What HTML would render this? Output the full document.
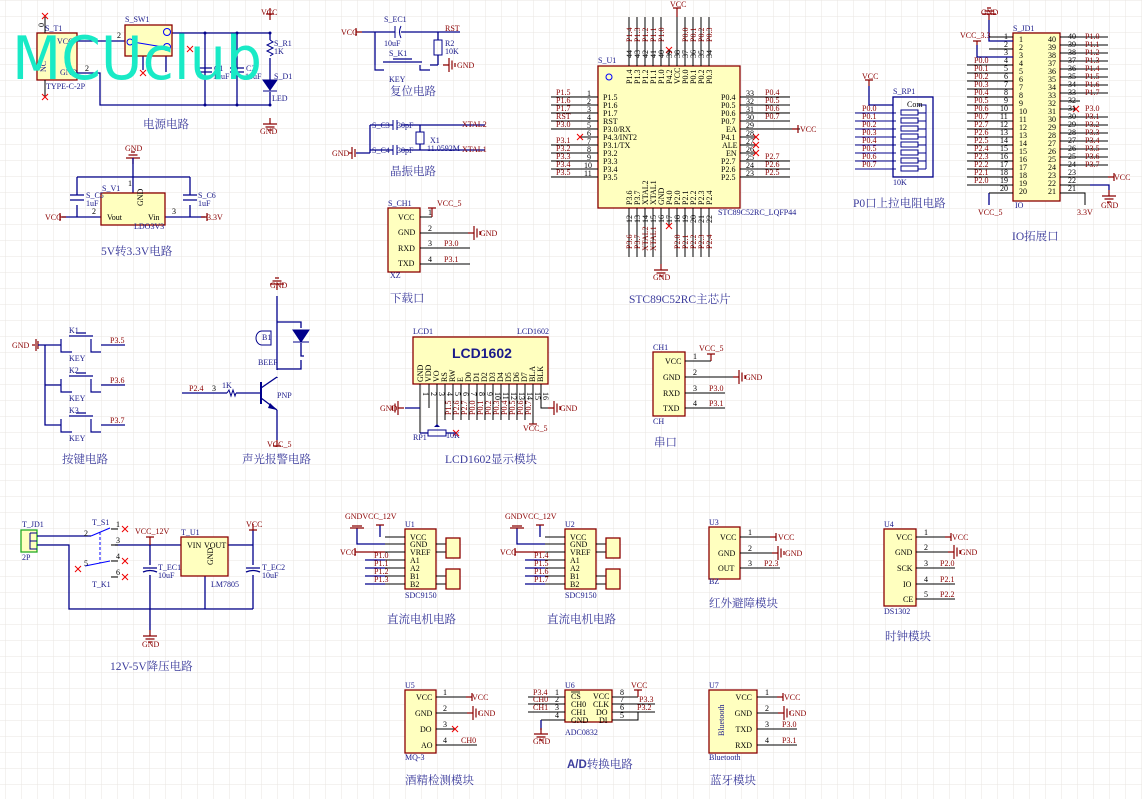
<!DOCTYPE html>
<html><head><meta charset="utf-8"><style>
html,body{margin:0;padding:0;background:#fff}
svg{display:block}
text{font-family:"Liberation Serif","Noto Serif CJK SC",serif}
.w{stroke:#00008b;stroke-width:1.3;fill:none}
.p{stroke:#000;stroke-width:1;fill:none}
.r{stroke:#8b0000;stroke-width:1.2;fill:none}
.bx{fill:#ffffbf;stroke:#8b0000;stroke-width:1.3}
.n{fill:#8b0000;font-size:8px}
.d{fill:#1a1a8a;font-size:8px}
.k{fill:#000;font-size:8px}
.t{fill:#3c3c9c;font-size:11.5px}
</style></head><body>
<svg width="1142" height="799" viewBox="0 0 1142 799" xmlns="http://www.w3.org/2000/svg">
<defs>
<pattern id="g" x="5" y="0" width="16" height="16" patternUnits="userSpaceOnUse">
<path d="M0 0V16M0 0H16" stroke="#e8e6e2" stroke-width="1" fill="none"/>
</pattern>
<g id="gnd"><path d="M0 0V6M-7 6H7M-4.5 9H4.5M-2 12H2" stroke="#8b0000" stroke-width="1.2" fill="none"/></g>
<g id="gndl"><path d="M0 0H-6M-6 -7V7M-9 -4.5V4.5M-12 -2V2" stroke="#8b0000" stroke-width="1.2" fill="none"/></g>
<g id="gndr"><path d="M0 0H6M6 -7V7M9 -4.5V4.5M12 -2V2" stroke="#8b0000" stroke-width="1.2" fill="none"/></g>
<g id="pt"><path d="M0 0V-6M-4 -6H4" stroke="#8b0000" stroke-width="1.2" fill="none"/></g>
<g id="pl"><path d="M0 0H-6M-6 -4V4" stroke="#8b0000" stroke-width="1.2" fill="none"/></g>
<g id="pr"><path d="M0 0H6M6 -4V4" stroke="#8b0000" stroke-width="1.2" fill="none"/></g>
<g id="x"><path d="M-3 -3L3 3M-3 3L3 -3" stroke="#e00" stroke-width="1"/></g>
</defs>
<rect width="1142" height="799" fill="url(#g)"/>

<!-- ===== Power circuit ===== -->
<rect class="bx" x="37" y="33" width="40" height="47"/>
<text class="d" x="45" y="31">S_T1</text>
<text class="d" x="57" y="44">VCC</text>
<text class="d" x="60" y="75">GND</text>
<text class="d" x="46" y="72" transform="rotate(-90 46 72)">NC</text>
<text class="d" x="46" y="89">TYPE-C-2P</text>
<path class="p" d="M45 33V17M45 80V96"/>
<use href="#x" x="45" y="16"/><use href="#x" x="45" y="97"/>
<text class="k" x="40" y="27" font-size="6" transform="rotate(-90 42 25)">0</text>
<path class="w" d="M77 41H125M77 73H100V105H270M172 33H270V40M205 33V105M237 33V105M270 58V80M270 92V105M166 56V72M143 56V70"/>
<rect class="bx" x="125" y="25" width="47" height="31"/>
<text class="d" x="125" y="22">S_SW1</text>
<text class="k" x="117" y="38">2</text><text class="k" x="85" y="71">2</text>
<circle cx="167" cy="32" r="3.5" fill="none" stroke="#00f"/><circle cx="167" cy="47" r="3.5" fill="none" stroke="#00f"/>
<circle cx="130" cy="42" r="3" fill="none" stroke="#00f"/>
<path d="M133 42L163 47" stroke="#00f"/>
<use href="#x" x="190" y="49"/><use href="#x" x="143" y="73"/>
<path d="M198 68H212M198 72H212M230 68H244M230 72H244" stroke="#00008b" stroke-width="1.3"/>
<text class="d" x="214" y="71">C1</text><text class="d" x="246" y="71">C2</text>
<text class="d" x="213" y="79">10uF</text><text class="d" x="245" y="79">10uF</text>
<path d="M270 40l3 2-6 3 6 3-6 3 6 3-3 2" stroke="#00008b" fill="none"/>
<text class="d" x="274" y="46">S_R1</text><text class="d" x="274" y="54">1K</text>
<path d="M263 80H277L270 90Z M263 91H277" fill="#00008b" stroke="#00008b"/>
<text class="d" x="274" y="79">S_D1</text><text class="d" x="272" y="101">LED</text>
<path class="r" d="M270 8V14"/><use href="#pt" x="270" y="20"/>
<text class="n" x="261" y="15">VCC</text>
<use href="#gnd" x="270" y="118"/><text class="n" x="260" y="134">GND</text>
<circle cx="205" cy="33" r="1.5" fill="#00008b"/><circle cx="237" cy="33" r="1.5" fill="#00008b"/><circle cx="270" cy="33" r="1.5" fill="#00008b"/>
<circle cx="205" cy="105" r="1.5" fill="#00008b"/><circle cx="237" cy="105" r="1.5" fill="#00008b"/><circle cx="270" cy="105" r="1.5" fill="#00008b"/>
<text class="t" x="143" y="128">电源电路</text>
<text x="12" y="79" textLength="250" lengthAdjust="spacingAndGlyphs" style="font-family:'DejaVu Sans',sans-serif;font-size:60px;fill:#19eac6;font-weight:normal">MCUclub</text>

<!-- ===== 5V->3.3V ===== -->
<text class="n" x="125" y="151">GND</text>
<use href="#gnd" x="133" y="157" transform="rotate(180 133 160.5)"/>
<path class="w" d="M133 158V193M77 177H190M77 177V195M77 205V217M190 177V195M190 205V217M62 217H101M165 217H205"/>
<path d="M70 195H84M70 200H84M183 195H197M183 200H197" stroke="#00008b" stroke-width="1.3"/>
<rect class="bx" x="101" y="193" width="64" height="32"/>
<text class="d" x="102" y="191">S_V1</text>
<text class="k" x="107" y="220">Vout</text><text class="k" x="148" y="220">Vin</text>
<text class="k" x="137" y="212" transform="rotate(-90 137 206)">GND</text>
<text class="k" x="92" y="214">2</text><text class="k" x="172" y="214">3</text><text class="k" x="128" y="186">1</text>
<text class="d" x="86" y="198">S_C5</text><text class="d" x="86" y="206">1uF</text>
<text class="d" x="198" y="198">S_C6</text><text class="d" x="198" y="206">1uF</text>
<use href="#pl" x="66" y="217"/><text class="n" x="45" y="220">VCC</text>
<use href="#pr" x="201" y="217"/><text class="n" x="207" y="220">3.3V</text>
<text class="d" x="134" y="229">LDO3V3</text>
<text class="t" x="101" y="255">5V转3.3V电路</text>

<!-- ===== Keys ===== -->
<text class="n" x="12" y="348">GND</text>
<path class="r" d="M32 345H35M36 339V351M38 341V349"/>
<path class="w" d="M38 345H61M45 345V425H61M45 385H61M101 345H125M101 385H125M101 425H125"/>
<g fill="none" stroke="#00008b" stroke-width="1.2">
<path d="M61 339V352H72M91 339V352H101M69 336H93M76 333H86"/>
<path d="M61 379V392H72M91 379V392H101M69 376H93M76 373H86"/>
<path d="M61 419V432H72M91 419V432H101M69 416H93M76 413H86"/>
</g>
<text class="d" x="69" y="333">K1</text><text class="d" x="69" y="373">K2</text><text class="d" x="69" y="413">K3</text>
<text class="d" x="69" y="361">KEY</text><text class="d" x="69" y="401">KEY</text><text class="d" x="69" y="441">KEY</text>
<text class="n" x="110" y="343">P3.5</text><text class="n" x="110" y="383">P3.6</text><text class="n" x="110" y="423">P3.7</text>
<text class="t" x="62" y="463">按键电路</text>

<!-- ===== Alarm ===== -->
<text class="n" x="270" y="288">GND</text>
<use href="#gnd" x="277" y="302" transform="rotate(180 277 296)"/>
<path class="w" d="M277 296V370M277 322H301V328M301 343V356H304M277 369H301V360M182 393H227M236 393H246M277 378V377M277 410V440"/>
<path d="M293 330H309L301 342Z M293 342H309" fill="#00008b" stroke="#00008b"/>
<path d="M271 345H262a6 7 0 0 1 0-14h9z" fill="none" stroke="#00008b"/>
<text class="d" x="262" y="340">B1</text><text class="d" x="258" y="365">BEEP</text>
<path d="M227 393l2-3 2 6 2-6 2 6 1-3" stroke="#00008b" fill="none"/>
<text class="d" x="222" y="388">1K</text>
<text class="n" x="189" y="391">P2.4</text><text class="k" x="212" y="391">3</text>
<path d="M261 382V404" stroke="#00008b" stroke-width="2"/>
<path class="w" d="M246 393H261M261 388L277 377M261 398L277 410"/>
<path d="M270 403L277 410L268 408Z" fill="#00008b"/>
<text class="d" x="277" y="398">PNP</text>
<use href="#pt" x="277" y="440" transform="rotate(180 277 440)"/>
<text class="n" x="267" y="447">VCC_5</text>
<text class="t" x="242" y="463">声光报警电路</text>

<!-- ===== Download XZ ===== -->
<rect class="bx" x="388" y="208" width="32" height="64"/>
<text class="d" x="388" y="206">S_CH1</text>
<text class="k" x="398" y="220">VCC</text><text class="k" x="398" y="235">GND</text><text class="k" x="398" y="251">RXD</text><text class="k" x="398" y="266">TXD</text>
<path class="p" d="M420 217H432M420 233H470M420 248H470M420 264H470"/>
<path class="r" d="M432 217V208M428 208H436"/>
<text class="n" x="437" y="206">VCC_5</text>
<use href="#gndr" x="468" y="233"/><text class="n" x="480" y="236">GND</text>
<text class="n" x="444" y="246">P3.0</text><text class="n" x="444" y="262">P3.1</text>
<text class="k" x="428" y="215">1</text><text class="k" x="428" y="231">2</text><text class="k" x="428" y="246">3</text><text class="k" x="428" y="262">4</text>
<text class="d" x="390" y="278">XZ</text>
<text class="t" x="390" y="302">下载口</text>

<!-- ===== Reset ===== -->
<text class="n" x="341" y="35">VCC</text>
<use href="#pl" x="362" y="32"/>
<path class="w" d="M362 32H395M401 32H460M375 32V65M438 32V40M438 55V65M430 65H438"/>
<path d="M395 26V38M401 26Q398 32 401 38" stroke="#00008b" fill="none"/>
<text class="d" x="384" y="22">S_EC1</text><text class="d" x="384" y="46">10uF</text>
<rect x="434" y="40" width="8" height="15" fill="none" stroke="#00008b"/>
<text class="d" x="445" y="46">R2</text><text class="d" x="445" y="54">10K</text>
<path d="M375 65V70H384M420 65V70H430M383 62H422M393 59H412" stroke="#00008b" fill="none" stroke-width="1.2"/>
<text class="d" x="389" y="56">S_K1</text><text class="d" x="389" y="82">KEY</text>
<text class="n" x="445" y="31">RST</text>
<use href="#gndr" x="443" y="65"/><text class="n" x="457" y="68">GND</text>
<text class="t" x="390" y="95">复位电路</text>

<!-- ===== Crystal ===== -->
<text class="n" x="332" y="156">GND</text>
<path class="r" d="M349 153H352M352 147V159M355 149V157"/>
<path class="w" d="M356 153H370M370 125V153M370 125H393M370 150H393M401 125H485M401 150H485M420 125V132M420 144V150"/>
<path d="M393 120V130M397 120V130M393 145V155M397 145V155" stroke="#00008b"/>
<rect x="416" y="132" width="8" height="12" fill="none" stroke="#00008b"/>
<text class="d" x="372" y="128">S_C3</text><text class="d" x="397" y="128">30pF</text>
<text class="d" x="372" y="153">S_C4</text><text class="d" x="397" y="153">30pF</text>
<text class="d" x="430" y="143">X1</text><text class="d" x="427" y="151">11.0592M</text>
<text class="n" x="462" y="127">XTAL2</text><text class="n" x="462" y="152">XTAL1</text>
<text class="t" x="390" y="175">晶振电路</text>

<!-- ===== MCU ===== -->
<rect class="bx" x="598" y="66" width="142" height="142"/>
<circle cx="609" cy="77" r="3" fill="none" stroke="#00f"/>
<text class="d" x="598" y="63">S_U1</text>
<text class="d" x="718" y="215">STC89C52RC_LQFP44</text>
<g class="p">
<path d="M629 17V66M637 17V66M645 17V66M653 17V66M661 17V66M669 50V66M677 17V66M685 17V66M693 17V66M701 17V66M709 17V66"/>
<path d="M629 208V257M637 208V257M645 208V257M653 208V257M661 208V270M669 208V226M677 208V257M685 208V257M693 208V257M701 208V257M709 208V257"/>
<path d="M551 97H598M551 105H598M551 113H598M551 121H598M551 129H598M580 137H598M551 145H598M551 153H598M551 161H598M551 169H598M551 177H598"/>
<path d="M740 97H790M740 105H790M740 113H790M740 121H790M740 129H800M740 137H756M740 145H756M740 153H756M740 161H790M740 169H790M740 177H790"/>
</g>
<use href="#x" x="580" y="137"/><use href="#x" x="756" y="137"/><use href="#x" x="756" y="145"/><use href="#x" x="756" y="153"/><use href="#x" x="669" y="50"/><use href="#x" x="669" y="226"/>
<path class="r" d="M677 8V17M673 8H681"/><text class="n" x="670" y="7">VCC</text>
<use href="#gnd" x="661" y="264"/><text class="n" x="653" y="280">GND</text>
<use href="#pr" x="792" y="129"/><text class="n" x="800" y="132">VCC</text>
<g class="k" font-size="7">
<text x="603" y="100">P1.5</text><text x="603" y="108">P1.6</text><text x="603" y="116">P1.7</text><text x="603" y="124">RST</text><text x="603" y="132">P3.0/RX</text><text x="603" y="140">P4.3/INT2</text><text x="603" y="148">P3.1/TX</text><text x="603" y="156">P3.2</text><text x="603" y="164">P3.3</text><text x="603" y="172">P3.4</text><text x="603" y="180">P3.5</text>
<text x="721" y="100">P0.4</text><text x="721" y="108">P0.5</text><text x="721" y="116">P0.6</text><text x="721" y="124">P0.7</text><text x="726" y="132">EA</text><text x="721" y="140">P4.1</text><text x="722" y="148">ALE</text><text x="726" y="156">EN</text><text x="721" y="164">P2.7</text><text x="721" y="172">P2.6</text><text x="721" y="180">P2.5</text>
<text x="587" y="96">1</text><text x="587" y="104">2</text><text x="587" y="112">3</text><text x="587" y="120">4</text><text x="587" y="128">5</text><text x="587" y="136">6</text><text x="587" y="144">7</text><text x="587" y="152">8</text><text x="587" y="160">9</text><text x="584" y="168">10</text><text x="584" y="176">11</text>
<text x="746" y="96">33</text><text x="746" y="104">32</text><text x="746" y="112">31</text><text x="746" y="120">30</text><text x="746" y="128">29</text><text x="746" y="136">28</text><text x="746" y="144">27</text><text x="746" y="152">26</text><text x="746" y="160">25</text><text x="746" y="168">24</text><text x="746" y="176">23</text>
</g>
<g class="n" font-size="7">
<text x="556" y="95">P1.5</text><text x="556" y="103">P1.6</text><text x="556" y="111">P1.7</text><text x="556" y="119">RST</text><text x="556" y="127">P3.0</text><text x="556" y="143">P3.1</text><text x="556" y="151">P3.2</text><text x="556" y="159">P3.3</text><text x="556" y="167">P3.4</text><text x="556" y="175">P3.5</text>
<text x="765" y="95">P0.4</text><text x="765" y="103">P0.5</text><text x="765" y="111">P0.6</text><text x="765" y="119">P0.7</text><text x="765" y="159">P2.7</text><text x="765" y="167">P2.6</text><text x="765" y="175">P2.5</text>
</g>
<g class="n" font-size="6.5">
<text transform="translate(632,42) rotate(-90)">P1.4</text><text transform="translate(640,42) rotate(-90)">P1.3</text><text transform="translate(648,42) rotate(-90)">P1.2</text><text transform="translate(656,42) rotate(-90)">P1.1</text><text transform="translate(664,42) rotate(-90)">P1.0</text><text transform="translate(688,42) rotate(-90)">P0.0</text><text transform="translate(696,42) rotate(-90)">P0.1</text><text transform="translate(704,42) rotate(-90)">P0.2</text><text transform="translate(712,42) rotate(-90)">P0.3</text>
</g>
<g class="k" font-size="6.5">
<text transform="translate(632,58) rotate(-90)">44</text><text transform="translate(640,58) rotate(-90)">43</text><text transform="translate(648,58) rotate(-90)">42</text><text transform="translate(656,58) rotate(-90)">41</text><text transform="translate(664,58) rotate(-90)">40</text><text transform="translate(672,58) rotate(-90)">39</text><text transform="translate(680,58) rotate(-90)">38</text><text transform="translate(688,58) rotate(-90)">37</text><text transform="translate(696,58) rotate(-90)">36</text><text transform="translate(704,58) rotate(-90)">35</text><text transform="translate(712,58) rotate(-90)">34</text>
<text transform="translate(632,84) rotate(-90)">P1.4</text><text transform="translate(640,84) rotate(-90)">P1.3</text><text transform="translate(648,84) rotate(-90)">P1.2</text><text transform="translate(656,84) rotate(-90)">P1.1</text><text transform="translate(664,84) rotate(-90)">P1.0</text><text transform="translate(672,84) rotate(-90)">P4.2</text><text transform="translate(680,84) rotate(-90)">VCC</text><text transform="translate(688,84) rotate(-90)">P0.0</text><text transform="translate(696,84) rotate(-90)">P0.1</text><text transform="translate(704,84) rotate(-90)">P0.2</text><text transform="translate(712,84) rotate(-90)">P0.3</text>
<text transform="translate(632,205) rotate(-90)">P3.6</text><text transform="translate(640,205) rotate(-90)">P3.7</text><text transform="translate(648,205) rotate(-90)">XTAL2</text><text transform="translate(656,205) rotate(-90)">XTAL1</text><text transform="translate(664,205) rotate(-90)">GND</text><text transform="translate(672,205) rotate(-90)">P4.0</text><text transform="translate(680,205) rotate(-90)">P2.0</text><text transform="translate(688,205) rotate(-90)">P2.1</text><text transform="translate(696,205) rotate(-90)">P2.2</text><text transform="translate(704,205) rotate(-90)">P2.3</text><text transform="translate(712,205) rotate(-90)">P2.4</text>
<text transform="translate(632,223) rotate(-90)">12</text><text transform="translate(640,223) rotate(-90)">13</text><text transform="translate(648,223) rotate(-90)">14</text><text transform="translate(656,223) rotate(-90)">15</text><text transform="translate(664,223) rotate(-90)">16</text><text transform="translate(672,223) rotate(-90)">17</text><text transform="translate(680,223) rotate(-90)">18</text><text transform="translate(688,223) rotate(-90)">19</text><text transform="translate(696,223) rotate(-90)">20</text><text transform="translate(704,223) rotate(-90)">21</text><text transform="translate(712,223) rotate(-90)">22</text>
</g>
<g class="n" font-size="6.5">
<text transform="translate(632,249) rotate(-90)">P3.6</text><text transform="translate(640,249) rotate(-90)">P3.7</text><text transform="translate(648,251) rotate(-90)">XTAL2</text><text transform="translate(656,251) rotate(-90)">XTAL1</text><text transform="translate(680,249) rotate(-90)">P2.0</text><text transform="translate(688,249) rotate(-90)">P2.1</text><text transform="translate(696,249) rotate(-90)">P2.2</text><text transform="translate(704,249) rotate(-90)">P2.3</text><text transform="translate(712,249) rotate(-90)">P2.4</text>
</g>
<text class="t" x="629" y="303">STC89C52RC主芯片</text>

<!-- ===== P0 pull-up ===== -->
<path class="r" d="M869 80V86M865 80H873"/><text class="n" x="862" y="79">VCC</text>
<path class="w" d="M869 86V105H893"/>
<rect x="893" y="97" width="40" height="80" fill="none" stroke="#00008b" stroke-width="1.3"/>
<text class="d" x="893" y="94">S_RP1</text>
<g stroke="#00008b" fill="none">
<path d="M855 113H896M855 121H896M855 129H896M855 137H896M855 145H896M855 153H896M855 161H896M855 169H896"/>
<rect x="901" y="110" width="17" height="5"/><rect x="901" y="118" width="17" height="5"/><rect x="901" y="126" width="17" height="5"/><rect x="901" y="134" width="17" height="5"/><rect x="901" y="142" width="17" height="5"/><rect x="901" y="150" width="17" height="5"/><rect x="901" y="158" width="17" height="5"/><rect x="901" y="166" width="17" height="5"/>
<path d="M918 105H926V169M918 113H926M918 121H926M918 129H926M918 137H926M918 145H926M918 153H926M918 161H926M918 169H926"/>
</g>
<text class="k" x="907" y="107" font-size="7">Com</text>
<g class="n" font-size="7"><text x="862" y="111">P0.0</text><text x="862" y="119">P0.1</text><text x="862" y="127">P0.2</text><text x="862" y="135">P0.3</text><text x="862" y="143">P0.4</text><text x="862" y="151">P0.5</text><text x="862" y="159">P0.6</text><text x="862" y="167">P0.7</text></g>
<text class="d" x="893" y="185">10K</text>
<text class="t" x="853" y="207">P0口上拉电阻电路</text>

<!-- ===== IO expansion ===== -->
<rect class="bx" x="1013" y="33" width="47" height="168"/>
<text class="d" x="1013" y="31">S_JD1</text><text class="d" x="1015" y="208">IO</text>
<text class="n" x="981" y="15">GND</text><use href="#gnd" x="989" y="26" transform="rotate(180 989 23)"/>
<path class="w" d="M989 20V41H1013M989 37"/>
<text class="n" x="960" y="38">VCC_3.3</text>
<path class="r" d="M973 41H981M977 41V45"/>
<path class="w" d="M977 45V57H1013M989 193V205"/>
<g class="p">
<path d="M989 37H1013M989 49H1013"/>
<path d="M967 65H1013M967 73H1013M967 81H1013M967 89H1013M967 97H1013M967 105H1013M967 113H1013M967 121H1013M967 129H1013M967 137H1013M967 145H1013M967 153H1013M967 161H1013M967 169H1013M967 177H1013M967 185H1013M989 193H1013"/>
<path d="M1060 37H1108M1060 45H1108M1060 53H1108M1060 61H1108M1060 69H1108M1060 77H1108M1060 85H1108M1060 93H1108M1060 101H1080M1060 109H1076M1060 117H1108M1060 125H1108M1060 133H1108M1060 141H1108M1060 149H1108M1060 157H1108M1060 165H1108M1060 177H1108M1060 185H1090M1060 193H1085V205"/>
</g>
<use href="#x" x="1076" y="109"/>
<use href="#pr" x="1108" y="177"/><text class="n" x="1114" y="180">VCC</text>
<path class="w" d="M1090 185H1109V190"/><use href="#gnd" x="1109" y="190"/><text class="n" x="1101" y="208">GND</text>
<text class="n" x="978" y="215">VCC_5</text><text class="n" x="1077" y="215">3.3V</text>
<g class="k" font-size="7">
<text x="1004" y="39">1</text><text x="1004" y="47">2</text><text x="1004" y="55">3</text><text x="1004" y="63">4</text><text x="1004" y="71">5</text><text x="1004" y="79">6</text><text x="1004" y="87">7</text><text x="1004" y="95">8</text><text x="1004" y="103">9</text><text x="1000" y="111">10</text><text x="1000" y="119">11</text><text x="1000" y="127">12</text><text x="1000" y="135">13</text><text x="1000" y="143">14</text><text x="1000" y="151">15</text><text x="1000" y="159">16</text><text x="1000" y="167">17</text><text x="1000" y="175">18</text><text x="1000" y="183">19</text><text x="1000" y="191">20</text>
<text x="1019" y="42">1</text><text x="1019" y="50">2</text><text x="1019" y="58">3</text><text x="1019" y="66">4</text><text x="1019" y="74">5</text><text x="1019" y="82">6</text><text x="1019" y="90">7</text><text x="1019" y="98">8</text><text x="1019" y="106">9</text><text x="1019" y="114">10</text><text x="1019" y="122">11</text><text x="1019" y="130">12</text><text x="1019" y="138">13</text><text x="1019" y="146">14</text><text x="1019" y="154">15</text><text x="1019" y="162">16</text><text x="1019" y="170">17</text><text x="1019" y="178">18</text><text x="1019" y="186">19</text><text x="1019" y="194">20</text>
<text x="1048" y="42">40</text><text x="1048" y="50">39</text><text x="1048" y="58">38</text><text x="1048" y="66">37</text><text x="1048" y="74">36</text><text x="1048" y="82">35</text><text x="1048" y="90">34</text><text x="1048" y="98">33</text><text x="1048" y="106">32</text><text x="1048" y="114">31</text><text x="1048" y="122">30</text><text x="1048" y="130">29</text><text x="1048" y="138">28</text><text x="1048" y="146">27</text><text x="1048" y="154">26</text><text x="1048" y="162">25</text><text x="1048" y="170">24</text><text x="1048" y="178">23</text><text x="1048" y="186">22</text><text x="1048" y="194">21</text>
<text x="1068" y="39">40</text><text x="1068" y="47">39</text><text x="1068" y="55">38</text><text x="1068" y="63">37</text><text x="1068" y="71">36</text><text x="1068" y="79">35</text><text x="1068" y="87">34</text><text x="1068" y="95">33</text><text x="1068" y="103">32</text><text x="1068" y="111">31</text><text x="1068" y="119">30</text><text x="1068" y="127">29</text><text x="1068" y="135">28</text><text x="1068" y="143">27</text><text x="1068" y="151">26</text><text x="1068" y="159">25</text><text x="1068" y="167">24</text><text x="1068" y="175">23</text><text x="1068" y="183">22</text><text x="1068" y="191">21</text>
</g>
<g class="n" font-size="7">
<text x="974" y="63">P0.0</text><text x="974" y="71">P0.1</text><text x="974" y="79">P0.2</text><text x="974" y="87">P0.3</text><text x="974" y="95">P0.4</text><text x="974" y="103">P0.5</text><text x="974" y="111">P0.6</text><text x="974" y="119">P0.7</text><text x="974" y="127">P2.7</text><text x="974" y="135">P2.6</text><text x="974" y="143">P2.5</text><text x="974" y="151">P2.4</text><text x="974" y="159">P2.3</text><text x="974" y="167">P2.2</text><text x="974" y="175">P2.1</text><text x="974" y="183">P2.0</text>
<text x="1085" y="39">P1.0</text><text x="1085" y="47">P1.1</text><text x="1085" y="55">P1.2</text><text x="1085" y="63">P1.3</text><text x="1085" y="71">P1.4</text><text x="1085" y="79">P1.5</text><text x="1085" y="87">P1.6</text><text x="1085" y="95">P1.7</text><text x="1085" y="111">P3.0</text><text x="1085" y="119">P3.1</text><text x="1085" y="127">P3.2</text><text x="1085" y="135">P3.3</text><text x="1085" y="143">P3.4</text><text x="1085" y="151">P3.5</text><text x="1085" y="159">P3.6</text><text x="1085" y="167">P3.7</text>
</g>
<text class="t" x="1012" y="240">IO拓展口</text>

<!-- ===== LCD1602 ===== -->
<rect class="bx" x="413" y="337" width="135" height="47"/>
<text class="d" x="413" y="334">LCD1</text><text class="d" x="517" y="334">LCD1602</text>
<text x="452" y="358" style="font-family:'Liberation Sans',sans-serif;font-weight:bold;font-size:14px;fill:#1a1a8a">LCD1602</text>
<g class="k" font-size="6.5">
<text transform="translate(423,382) rotate(-90)">GND</text><text transform="translate(431,382) rotate(-90)">VDD</text><text transform="translate(439,382) rotate(-90)">VO</text><text transform="translate(447,382) rotate(-90)">RS</text><text transform="translate(455,382) rotate(-90)">RW</text><text transform="translate(463,382) rotate(-90)">E</text><text transform="translate(471,382) rotate(-90)">D0</text><text transform="translate(479,382) rotate(-90)">D1</text><text transform="translate(487,382) rotate(-90)">D2</text><text transform="translate(495,382) rotate(-90)">D3</text><text transform="translate(503,382) rotate(-90)">D4</text><text transform="translate(511,382) rotate(-90)">D5</text><text transform="translate(519,382) rotate(-90)">D6</text><text transform="translate(527,382) rotate(-90)">D7</text><text transform="translate(535,382) rotate(-90)">BLA</text><text transform="translate(543,382) rotate(-90)">BLK</text>
<text transform="translate(423,392) rotate(90)">1</text><text transform="translate(431,392) rotate(90)">2</text><text transform="translate(439,392) rotate(90)">3</text><text transform="translate(447,392) rotate(90)">4</text><text transform="translate(455,392) rotate(90)">5</text><text transform="translate(463,392) rotate(90)">6</text><text transform="translate(471,392) rotate(90)">7</text><text transform="translate(479,392) rotate(90)">8</text><text transform="translate(487,392) rotate(90)">9</text><text transform="translate(495,392) rotate(90)">10</text><text transform="translate(503,392) rotate(90)">11</text><text transform="translate(511,392) rotate(90)">12</text><text transform="translate(519,392) rotate(90)">13</text><text transform="translate(527,392) rotate(90)">14</text><text transform="translate(535,392) rotate(90)">15</text><text transform="translate(543,392) rotate(90)">16</text>
</g>
<g class="p"><path d="M420 384V433M429 384V408M437 384V425M445 384V420M453 384V420M461 384V420M469 384V420M477 384V420M485 384V420M493 384V420M501 384V420M509 384V420M517 384V420M525 384V420M533 384V424M541 384V408H548"/></g>
<path class="w" d="M405 408H420M420 433H428M446 433H456"/>
<rect x="428" y="430" width="18" height="6" fill="none" stroke="#00008b"/>
<path d="M434 427L437 424L440 427Z" fill="#00008b"/>
<use href="#x" x="456" y="433"/>
<use href="#gndl" x="404" y="408"/><text class="n" x="380" y="411">GND</text>
<use href="#gndr" x="548" y="408"/><text class="n" x="560" y="411">GND</text>
<path class="r" d="M529 424H537"/><text class="n" x="523" y="431">VCC_5</text>
<text class="d" x="413" y="440">RP1</text><text class="d" x="446" y="438">10K</text>
<g class="n" font-size="6.5"><text transform="translate(451,415) rotate(-90)">P1.5</text><text transform="translate(459,415) rotate(-90)">P2.6</text><text transform="translate(467,415) rotate(-90)">P2.7</text><text transform="translate(475,415) rotate(-90)">P0.0</text><text transform="translate(483,415) rotate(-90)">P0.1</text><text transform="translate(491,415) rotate(-90)">P0.2</text><text transform="translate(499,415) rotate(-90)">P0.3</text><text transform="translate(507,415) rotate(-90)">P0.4</text><text transform="translate(515,415) rotate(-90)">P0.5</text><text transform="translate(523,415) rotate(-90)">P0.6</text><text transform="translate(531,415) rotate(-90)">P0.7</text></g>
<text class="t" x="445" y="463">LCD1602显示模块</text>

<!-- ===== Serial CH1 ===== -->
<rect class="bx" x="653" y="352" width="32" height="64"/>
<text class="d" x="653" y="350">CH1</text><text class="d" x="653" y="424">CH</text>
<text class="k" x="665" y="364">VCC</text><text class="k" x="663" y="380">GND</text><text class="k" x="663" y="396">RXD</text><text class="k" x="663" y="411">TXD</text>
<path class="p" d="M685 361H711M685 377H735M685 393H725M685 408H725"/>
<path class="r" d="M711 361V354M707 354H715"/><text class="n" x="699" y="351">VCC_5</text>
<use href="#gndr" x="733" y="377"/><text class="n" x="745" y="380">GND</text>
<text class="k" x="693" y="359">1</text><text class="k" x="693" y="375">2</text><text class="k" x="693" y="391">3</text><text class="k" x="693" y="406">4</text>
<text class="n" x="709" y="391">P3.0</text><text class="n" x="709" y="406">P3.1</text>
<text class="t" x="654" y="446">串口</text>

<!-- ===== 12V-5V ===== -->
<rect x="21" y="530" width="16" height="22" fill="#ffffbf" stroke="#2a2" stroke-width="1.3"/>
<path d="M30 533H37M30 533V549H37M30 541H37" stroke="#00008b" fill="none"/>
<text class="d" x="22" y="527">T_JD1</text><text class="d" x="22" y="560">2P</text>
<path class="w" d="M37 536H91M37 545H69V609H253M115 545H181M228 545H253M150 545V565M150 575V609M253 530V565M253 575V609M205 576V609"/>
<path class="p" d="M111 529H118M111 545H118M111 561H118M111 577H118"/>
<path d="M91 536L110 528M85 566L110 561" stroke="#00f" fill="none"/>
<path d="M100 532V563" stroke="#00f" stroke-dasharray="3 2"/>
<use href="#x" x="125" y="529"/><use href="#x" x="125" y="561"/><use href="#x" x="125" y="577"/><use href="#x" x="78" y="569"/>
<text class="d" x="92" y="525">T_S1</text><text class="d" x="92" y="587">T_K1</text>
<text class="k" x="116" y="527" font-size="7">1</text><text class="k" x="116" y="543" font-size="7">3</text><text class="k" x="116" y="559" font-size="7">4</text><text class="k" x="116" y="575" font-size="7">6</text><text class="k" x="84" y="536" font-size="7">2</text><text class="k" x="84" y="566" font-size="7">5</text>
<path d="M143 568H157M143 572Q150 569 157 572M246 568H260M246 572Q253 569 260 572" stroke="#00008b" fill="none" stroke-width="1.3"/>
<text class="d" x="158" y="570">T_EC1</text><text class="d" x="158" y="578">10uF</text>
<text class="d" x="262" y="570">T_EC2</text><text class="d" x="262" y="578">10uF</text>
<rect class="bx" x="181" y="537" width="47" height="39"/>
<text class="d" x="181" y="535">T_U1</text>
<text class="k" x="187" y="548">VIN</text><text class="k" x="204" y="548">VOUT</text>
<text class="k" x="208" y="570" transform="rotate(-90 208 565)">GND</text>
<text class="d" x="211" y="587">LM7805</text>
<path class="r" d="M150 545V537M146 537H154"/><text class="n" x="135" y="534">VCC_12V</text>
<path class="r" d="M253 530V524M249 530H257"/><text class="n" x="246" y="527">VCC</text>
<use href="#gnd" x="150" y="630"/><path class="w" d="M150 609V630"/><text class="n" x="142" y="647">GND</text>
<text class="t" x="110" y="670">12V-5V降压电路</text>

<!-- ===== Motor drivers ===== -->
<g>
<rect class="bx" x="405" y="529" width="31" height="60"/>
<text class="d" x="405" y="527">U1</text>
<g class="k" font-size="7.5"><text x="410" y="540">VCC</text><text x="410" y="547">GND</text><text x="410" y="555">VREF</text><text x="410" y="563">A1</text><text x="410" y="571">A2</text><text x="410" y="579">B1</text><text x="410" y="587">B2</text></g>
<path class="p" d="M385 537H405M385 544H405M385 552H405M385 560H405M385 568H405M385 576H405M385 584H405M436 544H446M436 552H446M436 576H446M436 584H446"/>
<path class="w" d="M380 537V525M357 528V544H385M365 560H385M365 568H385M365 576H385M365 584H385"/>
<path class="r" d="M376 525H384M350 528H364M352 526H362"/>
<path class="r" d="M355 552H385M355 548V556"/>
<rect class="bx" x="446" y="538" width="14" height="20"/><rect class="bx" x="446" y="569" width="14" height="20"/>
<text class="n" x="345" y="519">GNDVCC_12V</text>
<text class="n" x="340" y="555">VCC</text>
<g class="n" font-size="7"><text x="374" y="558">P1.0</text><text x="374" y="566">P1.1</text><text x="374" y="574">P1.2</text><text x="374" y="582">P1.3</text></g>
<text class="d" x="405" y="598">SDC9150</text>
<text class="t" x="387" y="623">直流电机电路</text>
</g>
<g transform="translate(160,0)">
<rect class="bx" x="405" y="529" width="31" height="60"/>
<text class="d" x="405" y="527">U2</text>
<g class="k" font-size="7.5"><text x="410" y="540">VCC</text><text x="410" y="547">GND</text><text x="410" y="555">VREF</text><text x="410" y="563">A1</text><text x="410" y="571">A2</text><text x="410" y="579">B1</text><text x="410" y="587">B2</text></g>
<path class="p" d="M385 537H405M385 544H405M385 552H405M385 560H405M385 568H405M385 576H405M385 584H405M436 544H446M436 552H446M436 576H446M436 584H446"/>
<path class="w" d="M380 537V525M357 528V544H385M365 560H385M365 568H385M365 576H385M365 584H385"/>
<path class="r" d="M376 525H384M350 528H364M352 526H362"/>
<path class="r" d="M355 552H385M355 548V556"/>
<rect class="bx" x="446" y="538" width="14" height="20"/><rect class="bx" x="446" y="569" width="14" height="20"/>
<text class="n" x="345" y="519">GNDVCC_12V</text>
<text class="n" x="340" y="555">VCC</text>
<g class="n" font-size="7"><text x="374" y="558">P1.4</text><text x="374" y="566">P1.5</text><text x="374" y="574">P1.6</text><text x="374" y="582">P1.7</text></g>
<text class="d" x="405" y="598">SDC9150</text>
<text class="t" x="387" y="623">直流电机电路</text>
</g>

<!-- ===== U3 IR ===== -->
<rect class="bx" x="709" y="527" width="31" height="52"/>
<text class="d" x="709" y="525">U3</text><text class="d" x="709" y="584">BZ</text>
<text class="k" x="720" y="540">VCC</text><text class="k" x="718" y="556">GND</text><text class="k" x="718" y="571">OUT</text>
<path class="p" d="M740 537H770M740 553H775M740 568H780"/>
<use href="#pr" x="770" y="537"/><text class="n" x="778" y="540">VCC</text>
<use href="#gndr" x="772" y="553"/><text class="n" x="785" y="556">GND</text>
<text class="n" x="764" y="566">P2.3</text>
<text class="k" x="748" y="535">1</text><text class="k" x="748" y="551">2</text><text class="k" x="748" y="566">3</text>
<text class="t" x="709" y="607">红外避障模块</text>

<!-- ===== U4 DS1302 ===== -->
<rect class="bx" x="884" y="529" width="32" height="77"/>
<text class="d" x="884" y="527">U4</text><text class="d" x="884" y="614">DS1302</text>
<g class="k"><text x="896" y="540">VCC</text><text x="895" y="555">GND</text><text x="897" y="571">SCK</text><text x="903" y="587">IO</text><text x="903" y="602">CE</text></g>
<path class="p" d="M916 537H945M916 552H950M916 568H955M916 584H955M916 599H955"/>
<use href="#pr" x="945" y="537"/><text class="n" x="952" y="540">VCC</text>
<use href="#gndr" x="948" y="552"/><text class="n" x="960" y="555">GND</text>
<g class="n"><text x="940" y="566">P2.0</text><text x="940" y="582">P2.1</text><text x="940" y="597">P2.2</text></g>
<g class="k"><text x="924" y="535">1</text><text x="924" y="550">2</text><text x="924" y="566">3</text><text x="924" y="582">4</text><text x="924" y="597">5</text></g>
<text class="t" x="885" y="640">时钟模块</text>

<!-- ===== U5 MQ-3 ===== -->
<rect class="bx" x="405" y="690" width="31" height="63"/>
<text class="d" x="405" y="688">U5</text><text class="d" x="405" y="760">MQ-3</text>
<g class="k"><text x="416" y="700">VCC</text><text x="415" y="716">GND</text><text x="420" y="732">DO</text><text x="421" y="748">AO</text></g>
<path class="p" d="M436 697H467M436 713H470M436 729H455M436 745H477"/>
<use href="#pr" x="466" y="697"/><text class="n" x="472" y="700">VCC</text>
<use href="#gndr" x="467" y="713"/><text class="n" x="478" y="716">GND</text>
<use href="#x" x="455" y="729"/><text class="n" x="461" y="743">CH0</text>
<g class="k"><text x="443" y="695">1</text><text x="443" y="711">2</text><text x="443" y="727">3</text><text x="443" y="743">4</text></g>
<text class="t" x="405" y="784">酒精检测模块</text>

<!-- ===== U6 ADC0832 ===== -->
<rect class="bx" x="565" y="690" width="47" height="32"/>
<text class="d" x="565" y="688">U6</text><text class="d" x="565" y="735">ADC0832</text>
<g class="k" font-size="7.5"><text x="571" y="699">CS</text><text x="571" y="707">CH0</text><text x="571" y="715">CH1</text><text x="571" y="723">GND</text><text x="593" y="699">VCC</text><text x="593" y="707">CLK</text><text x="596" y="715">DO</text><text x="599" y="723">DI</text></g>
<path d="M571 692H580" stroke="#000" stroke-width=".8"/>
<path class="p" d="M528 697H565M528 704H565M528 712H565M541 720H565M612 697H638M612 704H655M612 712H655M612 720H638V712"/>
<path class="w" d="M541 720V730"/><use href="#gnd" x="541" y="728"/><text class="n" x="533" y="744">GND</text>
<path class="r" d="M638 697V690M634 690H642"/><text class="n" x="631" y="688">VCC</text>
<g class="n" font-size="7"><text x="533" y="695">P3.4</text><text x="533" y="702">CH0</text><text x="533" y="710">CH1</text><text x="639" y="702">P3.3</text><text x="637" y="710">P3.2</text></g>
<g class="k" font-size="7"><text x="555" y="695">1</text><text x="555" y="702">2</text><text x="555" y="710">3</text><text x="555" y="718">4</text><text x="620" y="695">8</text><text x="620" y="702">7</text><text x="620" y="710">6</text><text x="620" y="718">5</text></g>
<text x="567" y="768" style="font-size:11.5px;fill:#3c3c9c;font-family:'Liberation Sans','Noto Sans CJK SC',sans-serif;font-weight:bold">A/D<tspan style="font-weight:normal;font-family:'Noto Serif CJK SC',serif">转换电路</tspan></text>

<!-- ===== U7 Bluetooth ===== -->
<rect class="bx" x="709" y="690" width="48" height="63"/>
<text class="d" x="709" y="688">U7</text><text class="d" x="709" y="760" font-size="7">Bluetooth</text>
<text class="d" x="720" y="740" font-size="6.5" transform="rotate(-90 720 736)">Bluetooth</text>
<g class="k" text-anchor="end"><text x="752" y="700">VCC</text><text x="752" y="716">GND</text><text x="752" y="732">TXD</text><text x="752" y="748">RXD</text></g>
<path class="p" d="M757 697H778M757 713H780M757 729H797M757 745H797"/>
<use href="#pr" x="777" y="697"/><text class="n" x="784" y="700">VCC</text>
<use href="#gndr" x="778" y="713"/><text class="n" x="789" y="716">GND</text>
<text class="n" x="782" y="727">P3.0</text><text class="n" x="782" y="743">P3.1</text>
<g class="k"><text x="765" y="695">1</text><text x="765" y="711">2</text><text x="765" y="727">3</text><text x="765" y="743">4</text></g>
<text class="t" x="710" y="784">蓝牙模块</text>
</svg>
</body></html>
